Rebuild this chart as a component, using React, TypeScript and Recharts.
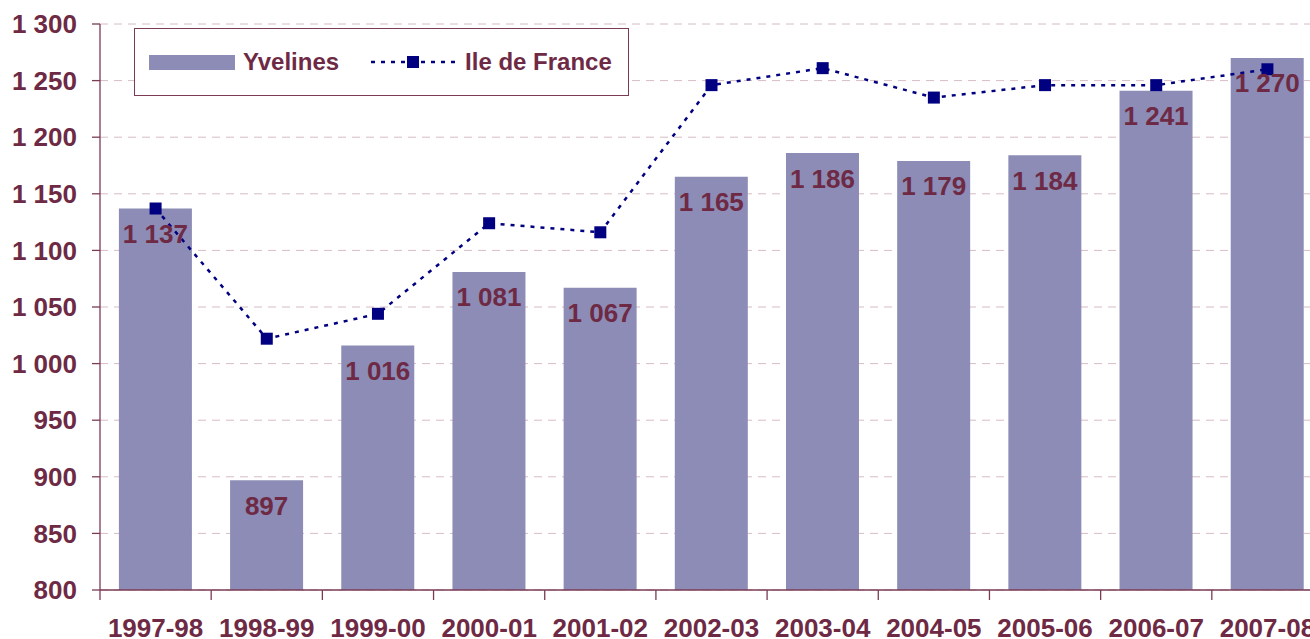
import React from 'react';
import { ComposedChart, Bar, Line, XAxis, YAxis, CartesianGrid, LabelList, Legend } from 'recharts';

const categories = ['1997-98', '1998-99', '1999-00', '2000-01', '2001-02', '2002-03', '2003-04', '2004-05', '2005-06', '2006-07', '2007-08'];
const yvelines = [1137, 897, 1016, 1081, 1067, 1165, 1186, 1179, 1184, 1241, 1270];
const ileDeFrance = [1137, 1022, 1044, 1124, 1116, 1246, 1261, 1235, 1246, 1246, 1260];
const yTicks = [800, 850, 900, 950, 1000, 1050, 1100, 1150, 1200, 1250, 1300];

const data = categories.map((c, i) => ({ cat: c, yvelines: yvelines[i], idf: ileDeFrance[i] }));

const TEXT = '#6E2A44';
const AXIS = '#7B3B55';
const BAR = '#8C8CB6';
const NAVY = '#000080';
const GRID = '#D6BCC4';
const FONT = '"Liberation Sans", Arial, sans-serif';

const fmt = (v: any) => String(Math.round(Number(v))).replace(/\B(?=(\d{3})+(?!\d))/g, ' ');

const XTick = (props: any) => {
  const { x, y, payload, width, visibleTicksCount } = props;
  const half = payload && payload.offset ? payload.offset : width / visibleTicksCount / 2;
  return (
    <g>
      <line x1={x - half} x2={x - half} y1={y} y2={y + 10} stroke={AXIS} strokeWidth={1.3} />
      <text x={x} y={y + 47} textAnchor="middle" fill={TEXT} fontSize={26} fontWeight="bold" fontFamily={FONT}>
        {payload.value}
      </text>
    </g>
  );
};

const SquareDot = (props: any) => {
  const { cx, cy, index } = props;
  if (cx == null || cy == null) return null;
  return <rect key={`d${index}`} x={cx - 6} y={cy - 6} width={12} height={12} fill={NAVY} />;
};

const LegendContent = (props: any) => {
  const payload = [...(props.payload || [])].sort((a: any, b: any) => (a.type === 'line' ? 1 : 0) - (b.type === 'line' ? 1 : 0));
  return (
    <div
      style={{
        boxSizing: 'border-box',
        width: 495,
        height: 68,
        border: `1.5px solid ${AXIS}`,
        background: '#fff',
        display: 'flex',
        alignItems: 'center',
        paddingLeft: 14,
        fontFamily: FONT,
        fontWeight: 'bold',
        fontSize: 24,
        color: TEXT,
      }}
    >
      {payload.map((entry: any, i: number) => (
        <div key={i} style={{ display: 'flex', alignItems: 'center', marginLeft: i === 0 ? 0 : 32 }}>
          {entry.type === 'line' ? (
            <svg width={84} height={16} style={{ display: 'block' }}>
              <line x1={0} x2={84} y1={8} y2={8} stroke={NAVY} strokeWidth={2.5} strokeDasharray="4 6" />
              <rect x={36} y={2} width={12} height={12} fill={NAVY} />
            </svg>
          ) : (
            <div style={{ width: 86, height: 15, background: BAR }} />
          )}
          <span style={{ marginLeft: entry.type === 'line' ? 10 : 8, lineHeight: '24px' }}>{entry.value}</span>
        </div>
      ))}
    </div>
  );
};

export default function App() {
  return (
    <div style={{ position: 'fixed', left: 0, top: 0, width: 1310, height: 639, overflow: 'hidden', background: '#fff' }}>
      <ComposedChart
        width={1340}
        height={639}
        data={data}
        margin={{ top: 24, right: 17, left: 0, bottom: 0 }}
        barCategoryGap="17%"
      >
        <CartesianGrid vertical={false} stroke={GRID} strokeDasharray="8 6" />
        <XAxis
          dataKey="cat"
          type="category"
          height={49}
          tickLine={false}
          tickSize={0}
          tickMargin={0}
          axisLine={{ stroke: AXIS, strokeWidth: 1.3 }}
          tick={<XTick />}
          interval={0}
        />
        <YAxis
          width={100}
          domain={[800, 1300]}
          ticks={yTicks}
          interval={0}
          tickFormatter={fmt}
          tickSize={8}
          tickMargin={15}
          axisLine={{ stroke: AXIS, strokeWidth: 1.3 }}
          tickLine={{ stroke: AXIS, strokeWidth: 1.3 }}
          tick={{ fill: TEXT, fontSize: 26, fontWeight: 'bold', fontFamily: FONT }}
        />
        <Legend
          layout="horizontal"
          verticalAlign="middle"
          align="center"
          content={<LegendContent />}
          wrapperStyle={{ position: 'absolute', left: 134, top: 28, width: 495, height: 68 }}
        />
        <Bar dataKey="yvelines" name="Yvelines" fill={BAR} legendType="rect" isAnimationActive={false}>
          <LabelList
            dataKey="yvelines"
            position="insideTop"
            offset={16}
            formatter={fmt}
            fill={TEXT}
            style={{ fontSize: 26, fontWeight: 'bold', fontFamily: FONT }}
          />
        </Bar>
        <Line
          dataKey="idf"
          name="Ile de France"
          type="linear"
          stroke={NAVY}
          strokeWidth={2.5}
          strokeDasharray="4 6"
          legendType="line"
          dot={<SquareDot />}
          activeDot={false}
          isAnimationActive={false}
        />
      </ComposedChart>
    </div>
  );
}
